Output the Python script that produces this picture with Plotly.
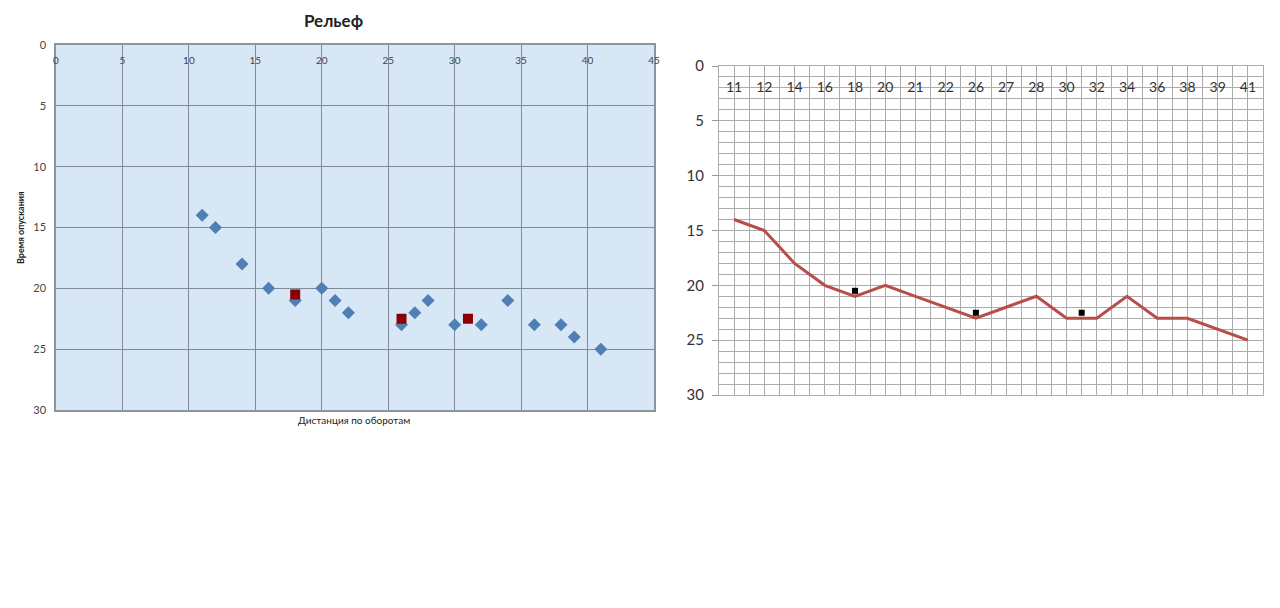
import numpy as np
import plotly.graph_objects as go

# ---- data ----
distance = [11, 12, 14, 16, 18, 20, 21, 22, 26, 27, 28, 30, 32, 34, 36, 38, 39, 41]
descent_time = [14, 15, 18, 20, 21, 20, 21, 22, 23, 22, 21, 23, 23, 21, 23, 23, 24, 25]
marker_distance = [18, 26, 31]
marker_time = [20.5, 22.5, 22.5]
category_labels = [str(d) for d in distance]

idx = np.arange(len(distance))
marker_idx = np.interp(marker_distance, distance, idx)

FONT = "Lato, 'Noto Sans', sans-serif"

fig = go.Figure()

# left scatter chart
fig.add_trace(go.Scatter(
    x=distance, y=descent_time, mode="markers",
    marker=dict(symbol="diamond", size=10, color="#4f7fb5"),
    xaxis="x", yaxis="y", showlegend=False, hoverinfo="x+y"))
fig.add_trace(go.Scatter(
    x=marker_distance, y=marker_time, mode="markers",
    marker=dict(symbol="square", size=10, color="#8b0000"),
    xaxis="x", yaxis="y", showlegend=False))

# right line chart
fig.add_trace(go.Scatter(
    x=idx, y=descent_time, mode="lines",
    line=dict(color="#b84d4a", width=3),
    xaxis="x2", yaxis="y2", showlegend=False))
fig.add_trace(go.Scatter(
    x=marker_idx, y=marker_time, mode="markers",
    marker=dict(symbol="square", size=6, color="black"),
    xaxis="x2", yaxis="y2", showlegend=False))

W, H = 1280, 608
OFF = 8  # page body margin
def px_x(p): return (p - OFF) / W
def px_y(p): return 1 - (p - OFF) / H

fig.update_layout(
    width=W, height=H,
    margin=dict(l=0, r=0, t=0, b=0),
    paper_bgcolor="white", plot_bgcolor="rgba(0,0,0,0)",
    font=dict(family=FONT),
    xaxis=dict(
        domain=[px_x(56), px_x(654)], range=[0, 45], dtick=5, side="top",
        anchor="y", showgrid=True, gridcolor="#7f8b99", gridwidth=1.3,
        zeroline=False, showline=True, mirror=True, linecolor="#8c959f",
        linewidth=1.5, ticks="", tickfont=dict(size=10, color="#444444"),
        ticklabelstandoff=-25, automargin=False),
    yaxis=dict(
        domain=[px_y(410), px_y(45)], range=[30, 0], dtick=5, anchor="x",
        showgrid=True, gridcolor="#7f8b99", gridwidth=1.3, zeroline=False,
        showline=True, mirror=True, linecolor="#8c959f", linewidth=1.5,
        ticks="", tickfont=dict(size=11, color="#444444"),
        ticklabelstandoff=6, automargin=False),
    xaxis2=dict(
        domain=[px_x(719), px_x(1263)], range=[-0.5, 17.5], anchor="y2",
        tickmode="array", tickvals=idx, ticktext=category_labels, side="top",
        showgrid=True, gridcolor="#acacac", gridwidth=1, zeroline=False,
        minor=dict(tickvals=idx + 0.5, showgrid=True, gridcolor="#acacac",
                   gridwidth=1, ticks=""),
        showline=True, mirror=True, linecolor="#acacac", linewidth=1,
        ticks="", tickfont=dict(size=14, color="#333333"),
        ticklabelstandoff=-33, automargin=False),
    yaxis2=dict(
        domain=[px_y(395), px_y(66)], range=[30, 0], dtick=5, anchor="x2",
        showgrid=True, gridcolor="#acacac", gridwidth=1, zeroline=False,
        minor=dict(dtick=1, showgrid=True, gridcolor="#acacac", gridwidth=1,
                   ticks=""),
        showline=True, mirror=True, linecolor="#acacac", linewidth=1,
        ticks="outside", ticklen=6, tickcolor="#999999",
        tickfont=dict(size=15, color="#333333"), ticklabelstandoff=5,
        automargin=False),
    shapes=[dict(type="rect", xref="x domain", yref="y domain",
                 x0=0, x1=1, y0=0, y1=1, layer="below",
                 fillcolor="#d8e7f6", line=dict(width=0))],
    annotations=[
        dict(text="<b>Рельеф</b>", xref="paper", yref="paper",
             x=px_x(333), y=px_y(20), xanchor="center", yanchor="middle",
             showarrow=False, font=dict(size=17, color="#222222")),
        dict(text="<b>Время опускания</b>", xref="paper", yref="paper",
             x=px_x(20), y=px_y(228), xanchor="center", yanchor="middle",
             textangle=-90, showarrow=False,
             font=dict(size=9, color="#222222")),
        dict(text="Дистанция по оборотам", xref="paper", yref="paper",
             x=px_x(354), y=px_y(420), xanchor="center", yanchor="middle",
             showarrow=False, font=dict(size=10, color="#222222")),
    ],
)

fig.write_html("out.html")
